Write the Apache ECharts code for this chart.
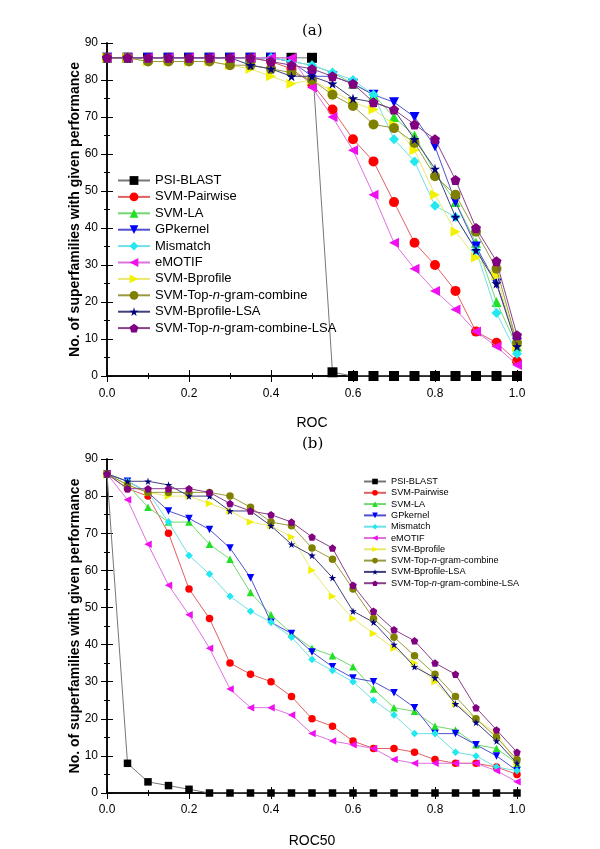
<!DOCTYPE html>
<html><head><meta charset="utf-8">
<script src="https://cdn.jsdelivr.net/npm/echarts@6/dist/echarts.min.js"></script>
<style>html,body{margin:0;padding:0;background:#fff}#c{width:600px;height:849px}</style>
</head><body><div id="c"></div>
<script>
// ---- data ----
const xs = [0,0.05,0.1,0.15,0.2,0.25,0.3,0.35,0.4,0.45,0.5,0.55,0.6,0.65,0.7,0.75,0.8,0.85,0.9,0.95,1.0];
const names = ['PSI-BLAST','SVM-Pairwise','SVM-LA','GPkernel','Mismatch','eMOTIF','SVM-Bprofile','SVM-Top-n-gram-combine','SVM-Bprofile-LSA','SVM-Top-n-gram-combine-LSA'];
const xTicks = ['0.0','0.2','0.4','0.6','0.8','1.0'];
const yTicks = [0,10,20,30,40,50,60,70,80,90];

// (a) ROC
const rocPsiBlast   = [86,86,86,86,86,86,86,86,86,86,86,1,0,0,0,0,0,0,0,0,0];
const rocPairwise   = [86,86,86,86,86,86,86,86,85,83,79,72,64,58,47,36,30,23,12,9,4];
const rocLA         = [86,86,86,86,86,86,86,86,86,85,84,82,79,76,70,65,55,47,36,20,8];
const rocGPkernel   = [86,86,86,86,86,86,86,86,86,85,81,81,79,76,74,70,62,47,35,25,9];
const rocMismatch   = [86,86,86,86,86,86,86,86,86,85,84,82,80,76,64,58,46,43,34,17,6];
const rocEMOTIF     = [86,86,86,86,86,86,86,86,86,86,78,70,61,49,36,29,23,18,12,8,3];
const rocBprofile   = [86,86,85,85,85,85,84,83,81,79,80,77,74,72,68,61,49,39,32,27,8];
const rocTopN       = [86,86,85,85,85,85,84,84,83,82,80,76,73,68,67,63,54,49,39,29,9];
const rocBprofLSA   = [86,86,86,86,86,86,86,84,83,81,81,79,75,74,72,64,56,43,34,25,8];
const rocTopNLSA    = [86,86,86,86,86,86,86,86,85,84,83,81,79,74,72,68,64,53,40,31,11];

// (b) ROC50
const r50PsiBlast   = [86,8,3,2,1,0,0,0,0,0,0,0,0,0,0,0,0,0,0,0,0];
const r50Pairwise   = [86,82,80,70,55,47,35,32,30,26,20,18,14,12,12,11,9,8,8,7,5];
const r50LA         = [86,83,77,73,73,67,63,54,48,43,39,37,34,28,23,22,18,17,13,12,8];
const r50GPkernel   = [86,84,81,76,74,71,66,58,46,43,38,34,31,30,27,23,16,16,13,10,6];
const r50Mismatch   = [86,84,81,73,64,59,53,49,46,42,36,33,30,25,21,16,16,11,10,7,6];
const r50EMOTIF     = [86,79,67,56,48,39,28,23,23,21,16,14,13,12,9,8,8,8,8,6,3];
const r50Bprofile   = [86,83,81,80,80,78,76,73,72,69,60,53,47,43,39,35,30,24,20,16,8];
const r50TopN       = [86,83,81,81,81,81,80,77,73,72,66,63,55,47,42,37,32,26,20,15,9];
const r50BprofLSA   = [86,84,84,83,80,80,76,76,72,67,64,58,49,46,40,34,31,24,19,14,8];
const r50TopNLSA    = [86,82,82,82,82,81,78,76,75,73,69,66,56,49,44,41,35,32,23,17,11];

const rocSets = [rocPsiBlast,rocPairwise,rocLA,rocGPkernel,rocMismatch,rocEMOTIF,rocBprofile,rocTopN,rocBprofLSA,rocTopNLSA];
const r50Sets = [r50PsiBlast,r50Pairwise,r50LA,r50GPkernel,r50Mismatch,r50EMOTIF,r50Bprofile,r50TopN,r50BprofLSA,r50TopNLSA];

// ---- styles ----
const colors = ['#000000','#ff0000','#22e022','#0000ff','#22e8f0','#ee11ee','#f2f200','#808000','#000080','#800080'];
const lineColors = ['#777777','#e06060','#70d870','#5050d0','#70e0e8','#e070e0','#e8e870','#9a9a40','#40407a','#8a408a'];
const symbols = [
  'rect','circle','triangle',
  'path://M0,0 L100,0 L50,87 Z',
  'diamond',
  'path://M0,50 L87,0 L87,100 Z',
  'path://M0,0 L87,50 L0,100 Z',
  'circle',
  'path://M50,0 L61,35 L98,35 L68,57 L79,91 L50,70 L21,91 L32,57 L2,35 L39,35 Z',
  'path://M50,0 L98,36 L80,95 L20,95 L2,36 Z'
];
const FONT = '"Liberation Sans", Arial, sans-serif';

function fmtName(n){ return n.replace('-n-', '-{i|n}-'); }

function mkSeries(sets, axisIdx, size){
  return sets.map((arr, k) => ({
    name: names[k], type: 'line', xAxisIndex: axisIdx, yAxisIndex: axisIdx,
    data: arr.map((v, j) => [xs[j], v]),
    symbol: symbols[k], symbolSize: size, showSymbol: true,
    itemStyle: {color: colors[k]},
    lineStyle: {color: lineColors[k], width: 1},
    animation: false, z: 3 + k
  }));
}

function axesFor(g, xname, labelMargin, nameGap){
  const line = {show:true, lineStyle:{color:'#000', width:1.5}};
  return {
    x: [
      {gridIndex:g, type:'value', min:0, max:1, interval:0.2, position:'bottom',
       axisLine: line, axisTick:{inside:true, length:6, lineStyle:{color:'#000'}},
       minorTick:{show:true, splitNumber:2, length:3, lineStyle:{color:'#000'}},
       splitLine:{show:false},
       axisLabel:{fontFamily:FONT, fontSize:12, color:'#000', margin:labelMargin,
         formatter: v => xTicks[Math.round(v/0.2)]},
       name: xname, nameLocation:'middle', nameGap:nameGap, nameMoveOverlap:false,
       nameTextStyle:{fontFamily:FONT, fontSize:14, color:'#000'}},
      {gridIndex:g, type:'value', min:0, max:1, interval:0.2, position:'top',
       axisLine: line, axisTick:{inside:true, length:6, lineStyle:{color:'#000'}},
       minorTick:{show:true, splitNumber:2, length:3, lineStyle:{color:'#000'}},
       splitLine:{show:false}, axisLabel:{show:false}}
    ],
    y: [
      {gridIndex:g, type:'value', min:0, max:90, interval:10, position:'left',
       axisLine: line, axisTick:{inside:true, length:6, lineStyle:{color:'#000'}},
       minorTick:{show:true, splitNumber:2, length:3, lineStyle:{color:'#000'}},
       splitLine:{show:false},
       axisLabel:{fontFamily:FONT, fontSize:12, color:'#000', margin:9,
         formatter: v => String(yTicks[Math.round(v/10)])},
       name:'No. of superfamilies with given performance', nameLocation:'middle', nameGap:25, nameMoveOverlap:false,
       nameTextStyle:{fontFamily:FONT, fontSize:14, fontWeight:'bold', color:'#000'}},
      {gridIndex:g, type:'value', min:0, max:90, interval:10, position:'right',
       axisLine: line, axisTick:{inside:true, length:6, lineStyle:{color:'#000'}},
       minorTick:{show:true, splitNumber:2, length:3, lineStyle:{color:'#000'}},
       splitLine:{show:false}, axisLabel:{show:false}}
    ]
  };
}

const a0 = axesFor(0, 'ROC', 12, 40);
const a1 = axesFor(1, 'ROC50', 11, 41);

const option = {
  animation: false,
  backgroundColor: '#fff',
  grid: [
    {left:107, top:43, width:410, height:333, outerBoundsMode:'none', containLabel:false},
    {left:107, top:459, width:410, height:334, outerBoundsMode:'none', containLabel:false}
  ],
  xAxis: [a0.x[0], a0.x[1], a1.x[0], a1.x[1]],
  yAxis: [a0.y[0], a0.y[1], a1.y[0], a1.y[1]],
  legend: [
    {data: names, orient:'vertical', left:112, top:169, itemWidth:32, itemHeight:11, itemGap:3.4,
     formatter: fmtName,
     textStyle:{fontFamily:FONT, fontSize:13, color:'#000', rich:{i:{fontFamily:FONT, fontSize:13, fontStyle:'italic', color:'#000'}}},
     selectedMode:false},
    {data: names, orient:'vertical', left:358, top:472, itemWidth:22, itemHeight:7, itemGap:2.3,
     formatter: fmtName,
     textStyle:{fontFamily:FONT, fontSize:9.2, color:'#000', rich:{i:{fontFamily:FONT, fontSize:9.2, fontStyle:'italic', color:'#000'}}},
     selectedMode:false}
  ],
  graphic: [
    {type:'text', left:302, top:24, style:{text:'(a)', font:'15px "DejaVu Serif", serif', fill:'#000'}},
    {type:'text', left:302, top:437, style:{text:'(b)', font:'15px "DejaVu Serif", serif', fill:'#000'}}
  ],
  series: mkSeries(rocSets, 0, 10).concat(mkSeries(r50Sets, 2, 7.5))
};

const chart = echarts.init(document.getElementById('c'), null, {renderer:'canvas'});
chart.setOption(option);
</script></body></html>
